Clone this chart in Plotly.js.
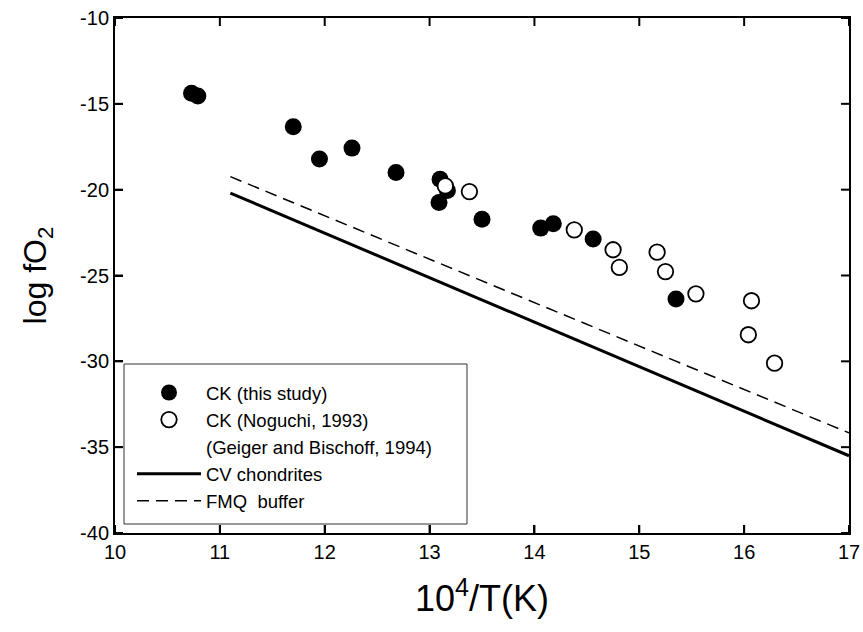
<!DOCTYPE html>
<html>
<head>
<meta charset="utf-8">
<script src="https://cdn.plot.ly/plotly-3.0.1.min.js"></script>
<style>html,body{margin:0;padding:0;background:#fff;}#chart{width:863px;height:632px;}</style>
</head>
<body>
<div id="chart"></div>
<script>
// CK (this study) – filled circles
var ckStudyX = [10.73, 10.79, 11.70, 11.95, 12.26, 12.68, 13.10, 13.09, 13.17, 13.50, 14.06, 14.18, 14.56, 15.35];
var ckStudyY = [-14.38, -14.54, -16.33, -18.22, -17.58, -19.00, -19.39, -20.75, -20.05, -21.72, -22.24, -21.99, -22.88, -26.37];
// CK (Noguchi 1993; Geiger and Bischoff 1994) – open circles
var ckLitX = [13.15, 13.38, 14.38, 14.75, 14.81, 15.17, 15.25, 15.54, 16.07, 16.04, 16.29];
var ckLitY = [-19.78, -20.11, -22.34, -23.50, -24.53, -23.64, -24.77, -26.07, -26.47, -28.45, -30.11];
// Lines
var cvX = [11.1, 17];
var cvY = [-20.2, -35.5];
var fmqX = [11.1, 17];
var fmqY = [-19.24, -34.17];
// Axis ticks
var xTicks = [10, 11, 12, 13, 14, 15, 16, 17];
var yTicks = [-40, -35, -30, -25, -20, -15, -10];

var font = 'Arial, "Liberation Sans", sans-serif';

var traces = [
  {x: ckStudyX, y: ckStudyY, mode: 'markers', type: 'scatter', name: 'CK (this study)',
   marker: {symbol: 'circle', size: 17, color: '#000', line: {width: 0}}},
  {x: ckLitX, y: ckLitY, mode: 'markers', type: 'scatter', name: 'CK (Noguchi, 1993)',
   marker: {symbol: 'circle', size: 15.5, color: '#fff', line: {width: 1.8, color: '#000'}}},
  {x: [null], y: [null], mode: 'markers', type: 'scatter', name: '(Geiger and Bischoff, 1994)',
   marker: {size: 1, color: 'rgba(0,0,0,0)'}},
  {x: cvX, y: cvY, mode: 'lines', type: 'scatter', name: 'CV chondrites',
   line: {color: '#000', width: 3}},
  {x: fmqX, y: fmqY, mode: 'lines', type: 'scatter', name: 'FMQ  buffer',
   line: {color: '#000', width: 1.5, dash: '12px,7px'}}
];

// plot area in pixels: left 115, right 849, top 18, bottom 533
function px2paperX(p) { return (p - 115) / 734; }
function px2paperY(p) { return (533 - p) / 515; }

var TL = 8; // tick length in px (inward ticks on all four sides)
var shapes = [
  {type: 'rect', xref: 'paper', yref: 'paper', layer: 'below',
   x0: px2paperX(124), x1: px2paperX(467), y0: px2paperY(524), y1: px2paperY(364),
   line: {color: '#333', width: 1}, fillcolor: '#fff'}
];
xTicks.forEach(function (t) {
  shapes.push({type: 'line', xref: 'x', yref: 'paper', ysizemode: 'pixel', yanchor: 0,
               x0: t, x1: t, y0: 0, y1: TL, line: {color: '#000', width: 2}, layer: 'above'});
  shapes.push({type: 'line', xref: 'x', yref: 'paper', ysizemode: 'pixel', yanchor: 1,
               x0: t, x1: t, y0: 0, y1: -TL, line: {color: '#000', width: 2}, layer: 'above'});
});
yTicks.forEach(function (t) {
  shapes.push({type: 'line', xref: 'paper', yref: 'y', xsizemode: 'pixel', xanchor: 0,
               x0: 0, x1: TL, y0: t, y1: t, line: {color: '#000', width: 2}, layer: 'above'});
  shapes.push({type: 'line', xref: 'paper', yref: 'y', xsizemode: 'pixel', xanchor: 1,
               x0: 0, x1: -TL, y0: t, y1: t, line: {color: '#000', width: 2}, layer: 'above'});
});

var layout = {
  width: 863, height: 632,
  margin: {l: 115, r: 14, t: 18, b: 99},
  paper_bgcolor: '#fff', plot_bgcolor: '#fff',
  font: {family: font, color: '#000', size: 18.5},
  showlegend: true,
  legend: {
    x: px2paperX(132), y: px2paperY(374), xanchor: 'left', yanchor: 'top',
    borderwidth: 0, bgcolor: 'rgba(0,0,0,0)',
    font: {family: font, size: 18.5, color: '#000'},
    itemwidth: 64, tracegroupgap: 0
  },
  shapes: shapes,
  xaxis: {
    range: [10, 17], tickmode: 'array', tickvals: xTicks, ticktext: xTicks.map(String),
    showgrid: false, zeroline: false, showline: true, linecolor: '#000', linewidth: 2,
    mirror: true, ticks: 'inside', ticklen: TL, tickwidth: 2, tickcolor: '#000',
    tickfont: {family: font, size: 20, color: '#000'},
    title: {text: '10<sup>4</sup>/T(K)', font: {family: font, size: 36, color: '#000'}, standoff: 24}
  },
  yaxis: {
    range: [-40, -10], tickmode: 'array', tickvals: yTicks, ticktext: yTicks.map(String),
    showgrid: false, zeroline: false, showline: true, linecolor: '#000', linewidth: 2,
    mirror: true, ticks: 'inside', ticklen: TL, tickwidth: 2, tickcolor: '#000',
    tickfont: {family: font, size: 20, color: '#000'},
    title: {text: 'log fO<sub>2</sub>', font: {family: font, size: 32, color: '#000'}, standoff: 24}
  }
};

Plotly.newPlot('chart', traces, layout, {displayModeBar: false, staticPlot: true});
</script>
</body>
</html>
